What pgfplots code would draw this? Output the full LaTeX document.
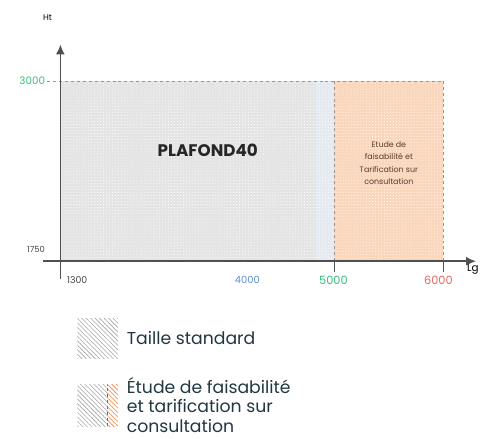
\documentclass[border=0pt]{standalone}
\usepackage{fontspec}
\setmainfont{Poppins}
\usepackage{pgfplots}
\pgfplotsset{compat=1.18}
\usetikzlibrary{patterns,patterns.meta,arrows.meta}
\definecolor{axgray}{RGB}{80,80,80}
\definecolor{zonegray}{RGB}{228,228,228}
\definecolor{zoneblue}{RGB}{228,234,240}
\definecolor{zoneorange}{RGB}{250,214,188}
\definecolor{dashgray}{RGB}{150,150,150}
\definecolor{tgreen}{RGB}{60,190,120}
\definecolor{tblue}{RGB}{90,140,215}
\definecolor{tred}{RGB}{232,100,100}
\definecolor{tdark}{RGB}{70,70,70}
\definecolor{legtext}{RGB}{33,55,66}
\definecolor{hatchgray}{RGB}{165,165,165}
\definecolor{hatchorange}{RGB}{245,130,60}
\definecolor{sepblue}{RGB}{80,110,170}
\definecolor{brownt}{RGB}{90,60,45}

\begin{document}
\begin{tikzpicture}
\begin{axis}[
  scale only axis, width=438bp, height=237bp,
  xmin=-18, xmax=420, ymin=-18, ymax=219,
  axis lines=middle, axis on top,
  axis line style={axgray, line width=1.5bp, -{Latex[length=10bp,width=9bp]}},
  clip=false,
  major tick length=0pt,
  /pgf/number format/assume math mode=true,
  xtick={17,189,276,382},
  xticklabels={
    {\fontsize{9.5}{10}\selectfont\color{tdark}1300},
    {\fontsize{10}{11}\selectfont\color{tblue}4000},
    {\fontsize{11.5}{12}\selectfont\color{tgreen}5000},
    {\fontsize{11.5}{12}\selectfont\color{tred}6000}},
  xticklabel style={anchor=north, yshift=-12bp},
  ytick={12,182},
  yticklabels={
    {\fontsize{8.5}{9}\selectfont\color{tdark}1750\hspace{2bp}},
    {\fontsize{10.5}{11}\selectfont\color{tgreen}3000\hspace{13bp}}},
  yticklabel style={anchor=east, xshift=-12bp},
  xlabel={Lg}, ylabel={Ht},
  every axis x label/.style={at={(axis cs:417,-8)}, anchor=center, font=\fontsize{10.5}{11}\selectfont},
  every axis y label/.style={at={(axis cs:-13,246)}, anchor=center, font=\fontsize{8.5}{9}\selectfont},
  legend style={at={(axis cs:14,-56)}, anchor=north west, draw=none, fill=none,
    font=\fontsize{17.5}{20}\selectfont, text=legtext,
    nodes={align=left, inner sep=2bp}, row sep=17bp,
    /tikz/every odd column/.append style={column sep=7bp}},
  legend cell align=left,
]
% zones
\addplot[fill=zonegray, draw=none, forget plot] coordinates {(0,0) (0,182) (277,182) (277,0)} -- cycle;
\addplot[fill=zoneblue, draw=none, forget plot] coordinates {(258,0) (258,182) (277,182) (277,0)} -- cycle;
\addplot[fill=zoneorange, draw=none, forget plot] coordinates {(277,0) (277,182) (387,182) (387,0)} -- cycle;
\addplot[pattern=dots, pattern color=white, draw=none, forget plot] coordinates {(0,0) (0,182) (387,182) (387,0)} -- cycle;
% borders
\addplot[dashgray, dashed, line width=0.8bp, forget plot] coordinates {(-13,182) (387,182)};
\addplot[dashgray, dashed, line width=0.8bp, forget plot] coordinates {(277,0) (277,182)};
\addplot[dashgray, dashed, line width=0.8bp, forget plot] coordinates {(387,0) (387,182)};
\addplot[axgray, line width=0.8bp, forget plot] coordinates {(277,-11) (277,0)};
\addplot[axgray, line width=0.8bp, forget plot] coordinates {(387,-11) (387,0)};
% texts in zones
\node[font=\fontsize{17}{18}\selectfont\bfseries, text=black!85] at (axis cs:149,112) {PLAFOND40};
\node[align=center, font=\fontsize{8}{12.5}\selectfont, text=brownt] at (axis cs:332,99)
  {Etude de\\faisabilité et\\Tarification sur\\consultation};
% legend
\addlegendimage{legend image code/.code={
  \fill[draw=none, pattern={Lines[angle=-45, distance=3.2bp, line width=0.6bp]}, pattern color=hatchgray] (0bp,-20bp) rectangle (41bp,20bp);}}
\addlegendentry{Taille standard}
\addlegendimage{legend image code/.code={
  \fill[draw=none, pattern={Lines[angle=-45, distance=3.2bp, line width=0.6bp]}, pattern color=hatchgray] (0bp,-21bp) rectangle (30bp,21bp);
  \fill[draw=none, pattern={Lines[angle=-45, distance=3.2bp, line width=0.6bp]}, pattern color=hatchorange] (30bp,-21bp) rectangle (41bp,21bp);
  \draw[sepblue, dashed, line width=1bp] (30bp,-21bp) -- (30bp,21bp);}}
\addlegendentry{Étude de faisabilité\\et tarification sur\\consultation}
% picture extent
\path (axis cs:-61,-169) rectangle (axis cs:421,264);
\end{axis}
\end{tikzpicture}
\end{document}
